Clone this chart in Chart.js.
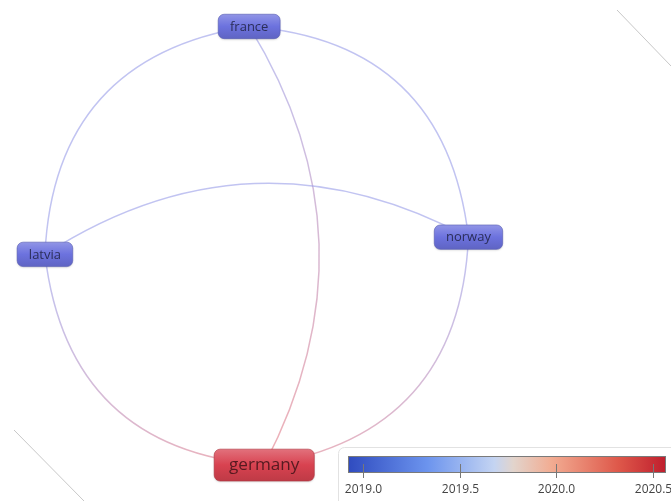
<!DOCTYPE html>
<html>
<head>
<meta charset="utf-8">
<script src="https://cdn.jsdelivr.net/npm/chart.js@4.4.1/dist/chart.umd.min.js"></script>
<style>
  html, body { margin: 0; padding: 0; background: #fff; }
  #wrap { width: 671px; height: 501px; position: relative; }
</style>
</head>
<body>
<div id="wrap"><canvas id="chart"></canvas></div>
<script>
// ================= DATA =================
const labels = ["france", "latvia", "norway", "germany"];
const xs = [-0.05, -1.00, 0.97, 0.02];
const ys = [1.04, -0.02, 0.06, -1.00];
const years = [2019.0, 2019.0, 2019.0, 2020.5];
const weights = [1, 1, 1, 2];
const links = [[0, 2], [1, 0], [0, 3], [1, 2], [3, 1], [2, 3]];

const barTicks = [2019.0, 2019.5, 2020.0, 2020.5];
const barMin = 2018.92;
const barMax = 2020.57;

// ================= COLORS =================
const rampStops = [
  [0, [47, 75, 191]], [0.25, [108, 148, 238]], [0.46, [196, 212, 242]],
  [0.52, [226, 212, 204]], [0.64, [242, 172, 146]], [0.85, [222, 88, 74]],
  [1, [191, 30, 45]]
];
const nodeBlue = [108, 114, 222];
const nodeRed = [216, 66, 80];

function mix(a, b, t) {
  return a.map((v, i) => Math.round(v + (b[i] - v) * t));
}
function rgba(c, a) { return `rgba(${c[0]},${c[1]},${c[2]},${a})`; }

function nodeColor(year) {
  const t = Math.min(1, Math.max(0, (year - barTicks[0]) / (barTicks[barTicks.length - 1] - barTicks[0])));
  return mix(nodeBlue, nodeRed, t);
}

// ================= PLUGIN =================
const networkPlugin = {
  id: "network",
  beforeDatasetsDraw(chart) {
    const { ctx, scales: { x, y } } = chart;
    const unit = x.getPixelForValue(1) - x.getPixelForValue(0);
    const sag = 0.29 * unit;

    // decorative page edges
    ctx.save();
    ctx.strokeStyle = "#c8c8c8";
    ctx.lineWidth = 1;
    ctx.beginPath();
    ctx.moveTo(617, 10); ctx.lineTo(671, 66);
    ctx.moveTo(14, 430); ctx.lineTo(84, 501);
    ctx.stroke();
    ctx.restore();

    links.forEach(([a, b]) => {
      const x0 = x.getPixelForValue(xs[a]), y0 = y.getPixelForValue(ys[a]);
      const x1 = x.getPixelForValue(xs[b]), y1 = y.getPixelForValue(ys[b]);
      const dx = x1 - x0, dy = y1 - y0;
      const len = Math.hypot(dx, dy);
      const nx = dy / len, ny = -dx / len;
      const cx = (x0 + x1) / 2 + nx * 2 * sag;
      const cy = (y0 + y1) / 2 + ny * 2 * sag;

      const ca = mix(nodeColor(years[a]), [255, 255, 255], 0.3);
      const cb = mix(nodeColor(years[b]), [255, 255, 255], 0.3);
      const grad = ctx.createLinearGradient(x0, y0, x1, y1);
      grad.addColorStop(0, rgba(ca, 0.6));
      grad.addColorStop(1, rgba(cb, 0.6));

      ctx.save();
      ctx.strokeStyle = grad;
      ctx.lineWidth = 1.5;
      ctx.beginPath();
      ctx.moveTo(x0, y0);
      ctx.quadraticCurveTo(cx, cy, x1, y1);
      ctx.stroke();
      ctx.restore();
    });
  },
  afterDatasetsDraw(chart) {
    const { ctx, scales: { x, y } } = chart;

    labels.forEach((name, i) => {
      const px = x.getPixelForValue(xs[i]);
      const py = y.getPixelForValue(ys[i]);
      const size = 13 * Math.pow(weights[i], 0.4);
      ctx.save();
      ctx.font = `${size}px "Open Sans", sans-serif`;
      const tw = ctx.measureText(name).width;
      const w = tw + 2 * (size * 0.75 + 2);
      const h = size * 1.8 + 1;
      const bx = px - w / 2, by = py - h / 2;

      const c = nodeColor(years[i]);
      const grad = ctx.createLinearGradient(0, by, 0, by + h);
      grad.addColorStop(0, rgba(mix(c, [255, 255, 255], 0.25), 1));
      grad.addColorStop(0.5, rgba(c, 1));
      grad.addColorStop(1, rgba(mix(c, [0, 0, 0], 0.12), 1));

      ctx.shadowColor = "rgba(0,0,0,0.18)";
      ctx.shadowBlur = 2;
      ctx.shadowOffsetY = 1;
      ctx.fillStyle = grad;
      ctx.beginPath();
      ctx.roundRect(bx, by, w, h, 6);
      ctx.fill();
      ctx.shadowColor = "transparent";
      ctx.strokeStyle = rgba(mix(c, [0, 0, 0], 0.2), 0.6);
      ctx.lineWidth = 1;
      ctx.stroke();

      ctx.fillStyle = rgba(mix(c, [0, 0, 0], 0.6), 1);
      ctx.textAlign = "center";
      ctx.textBaseline = "middle";
      ctx.fillText(name, px, py + 0.5);
      ctx.restore();
    });
  },
  afterDraw(chart) {
    const { ctx } = chart;
    // color bar legend
    const boxX = 338, boxY = 447, boxW = 340, boxH = 60;
    const barX = 348, barY = 456, barW = 318, barH = 17;
    const toPx = v => barX + (v - barMin) / (barMax - barMin) * barW;

    ctx.save();
    ctx.fillStyle = "#fff";
    ctx.strokeStyle = "#e2e2e2";
    ctx.lineWidth = 1;
    ctx.beginPath();
    ctx.roundRect(boxX + 0.5, boxY + 0.5, boxW, boxH, 6);
    ctx.fill();
    ctx.stroke();

    const grad = ctx.createLinearGradient(barX, 0, barX + barW, 0);
    rampStops.forEach(([t, c]) => grad.addColorStop(t, rgba(c, 1)));
    ctx.fillStyle = grad;
    ctx.fillRect(barX, barY, barW, barH);
    ctx.strokeStyle = "#7a7a7a";
    ctx.strokeRect(barX + 0.5, barY + 0.5, barW - 1, barH - 1);

    ctx.strokeStyle = "#777";
    ctx.fillStyle = "#444";
    ctx.font = '12px "Open Sans", sans-serif';
    ctx.textAlign = "center";
    ctx.textBaseline = "middle";
    barTicks.forEach(v => {
      const tx = Math.round(toPx(v)) + 0.5;
      ctx.beginPath();
      ctx.moveTo(tx, barY + 8);
      ctx.lineTo(tx, barY + 22);
      ctx.stroke();
      ctx.fillText(v.toFixed(1), tx, barY + 34);
    });
    ctx.restore();
  }
};

// ================= CHART =================
const ctx = document.getElementById("chart").getContext("2d");

new Chart(ctx, {
  type: "scatter",
  data: {
    datasets: [{
      label: "items",
      data: xs.map((v, i) => ({ x: v, y: ys[i] })),
      pointRadius: 0,
      pointHoverRadius: 0
    }]
  },
  options: {
    responsive: true,
    maintainAspectRatio: false,
    animation: false,
    layout: { padding: 0 },
    plugins: { legend: { display: false }, tooltip: { enabled: false } },
    scales: {
      x: { type: "linear", display: false, min: -1.209, max: 1.912 },
      y: { type: "linear", display: false, min: -1.167, max: 1.163 }
    }
  },
  plugins: [networkPlugin]
});
</script>
</body>
</html>
